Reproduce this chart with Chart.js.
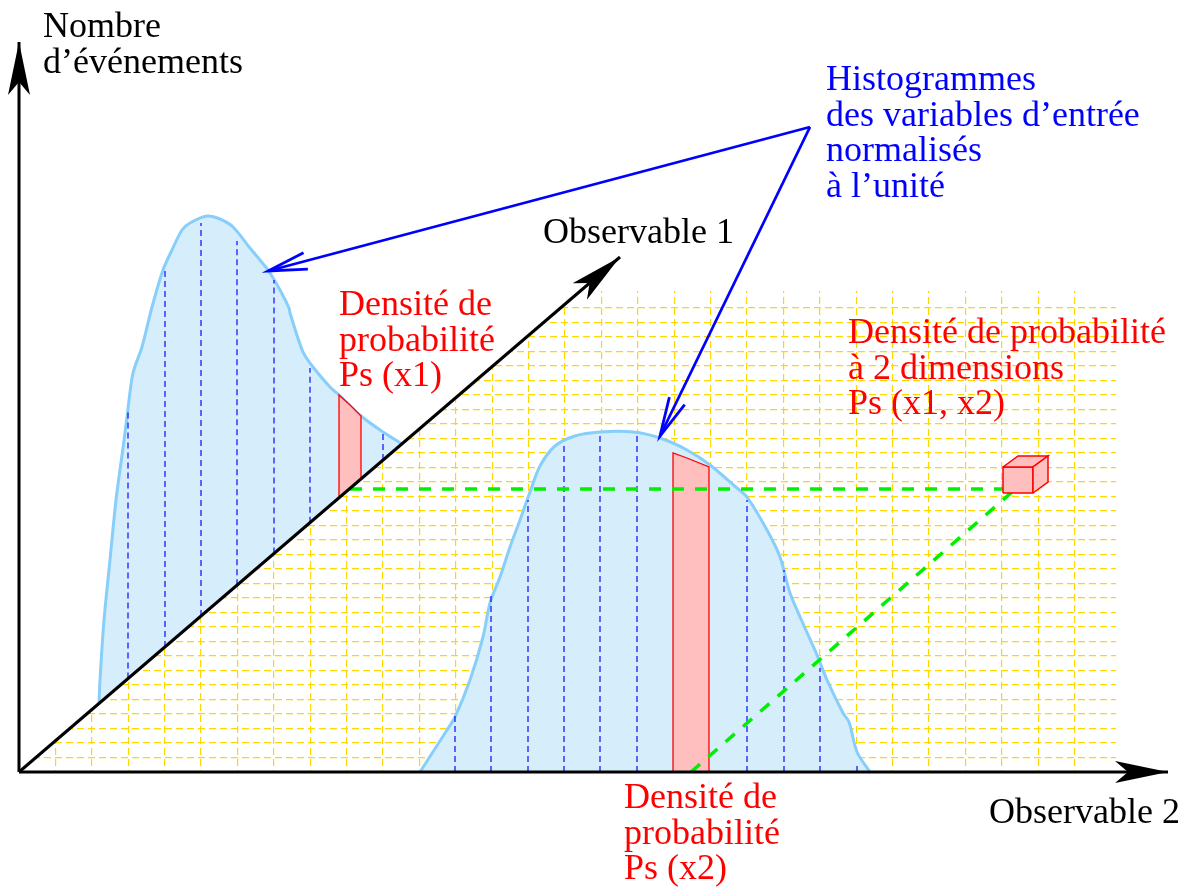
<!DOCTYPE html>
<html>
<head>
<meta charset="utf-8">
<title>Densité de probabilité à 2 dimensions</title>
<script src="https://cdn.jsdelivr.net/npm/chart.js@4/dist/chart.umd.min.js"></script>
<style>
  body { margin: 0; background: #fff; }
</style>
</head>
<body>
<canvas id="schema" width="1190" height="891"></canvas>
<script>
// repère du schéma : origine au pied des axes, une unité = un pixel du dessin

// axes (le dernier point est la pointe de la flèche)
var axeNombreX = [0, 0];
var axeNombreY = [0, 730];
var axeObs2X = [0, 1149];
var axeObs2Y = [0, 0];
var axeObs1X = [0, 601];
var axeObs1Y = [0, 515];

// histogramme de l'observable 1 (posé sur l'axe oblique)
var histo1X = [80, 81, 85, 91, 97, 104, 108, 114, 123, 133, 144, 153, 163, 171, 188, 201, 214, 231, 249, 261, 270, 271, 284, 294, 311, 320, 342, 364, 383];
var histo1Y = [68, 92, 152, 212, 272, 324, 355, 399, 425, 465, 502, 522, 542, 549, 556, 553, 545, 524, 502, 482, 464, 459, 420, 405, 385, 377, 356, 340, 328];
var histo1BinsX = [109, 146, 182, 218, 255, 291, 364];
var histo1BinsHaut = [360, 502, 549, 531, 492, 404, 340];

// histogramme de l'observable 2 (posé sur l'axe horizontal)
var histo2X = [401, 428, 436, 451, 464, 471, 481, 491, 501, 511, 521, 536, 556, 581, 614, 641, 668, 691, 718, 728, 748, 761, 771, 786, 798, 808, 824, 830, 838, 851];
var histo2Y = [0, 42, 55, 92, 135, 169, 195, 225, 252, 280, 306, 326, 336, 340, 340, 334, 322, 307, 284, 275, 242, 215, 179, 144, 117, 92, 59, 50, 20, 0];
var histo2BinsX = [436, 472, 509, 545, 581, 618, 728, 765, 801, 838];
var histo2BinsHaut = [57, 180, 272, 328, 337, 336, 272, 202, 104, 10];

// bins sélectionnés (en rouge)
var binRouge1X = [320, 331, 342];
var binRouge1Y = [377, 367, 356];
var binRouge2X = [654, 668, 690];
var binRouge2Y = [319, 314, 305];

// cellule de la densité à 2 dimensions
var cubeAvantX = [984, 984, 1014, 1014, 984];
var cubeAvantY = [279, 305, 305, 279, 279];
var cubeDessusX = [984, 999, 1029, 1014, 984];
var cubeDessusY = [305, 316, 316, 305, 305];
var cubeDroiteX = [1014, 1029, 1029, 1014, 1014];
var cubeDroiteY = [279, 290, 316, 305, 279];

// projections (tirets verts)
var projection1X = [331, 984];
var projection1Y = [283, 283];
var projection2X = [672, 993];
var projection2Y = [0, 280];

// flèches bleues depuis la légende
var fleche1X = [791, 249];
var fleche1Y = [645, 501];
var fleche2X = [791, 641];
var fleche2Y = [645, 336];

// textes
var textes = [
  { lignes: ['Nombre', 'd’événements'], x: 24, y: 735, couleur: '#000' },
  { lignes: ['Histogrammes', 'des variables d’entrée', 'normalisés', 'à l’unité'], x: 807, y: 682, couleur: '#0000ff' },
  { lignes: ['Observable 1'], x: 524, y: 529, couleur: '#000' },
  { lignes: ['Densité de', 'probabilité', 'Ps (x1)'], x: 320, y: 457, couleur: '#ff0000' },
  { lignes: ['Densité de probabilité', 'à 2 dimensions', 'Ps (x1, x2)'], x: 829, y: 429, couleur: '#ff0000' },
  { lignes: ['Densité de', 'probabilité', 'Ps (x2)'], x: 605, y: -36, couleur: '#ff0000' },
  { lignes: ['Observable 2'], x: 970, y: -51, couleur: '#000' }
];

var penteObs1 = axeObs1Y[1] / axeObs1X[1];
function surObs1(x) { return x * penteObs1; }

function points(xs, ys) {
  return xs.map(function (x, i) { return { x: x, y: ys[i] }; });
}

// traits verticaux des bins, coupés par des null
function traits(xs, hauts, base) {
  var pts = [];
  xs.forEach(function (x, i) {
    pts.push({ x: x, y: base(x) }, { x: x, y: hauts[i] }, { x: x, y: null });
  });
  return pts;
}

function binRouge(xs, ys, base) {
  var pts = [{ x: xs[0], y: base(xs[0]) }].concat(points(xs, ys));
  var fin = xs[xs.length - 1];
  pts.push({ x: fin, y: base(fin) }, { x: xs[0], y: base(xs[0]) });
  return pts;
}

var bleuClair = '#87cefa';
var fondBleu = '#d6eefc';
var rose = '#ffbfbf';

var axeObs1 = { data: points(axeObs1X, axeObs1Y), borderColor: '#000', borderWidth: 3, pointe: 'pleine' };

var datasets = [
  { data: points(histo2X, histo2Y), borderColor: bleuClair, borderWidth: 3, backgroundColor: fondBleu, fill: 'origin', tension: 0.3 },
  { data: points(histo1X, histo1Y), borderColor: bleuClair, borderWidth: 3, backgroundColor: fondBleu, tension: 0.3 },
  { data: traits(histo1BinsX, histo1BinsHaut, surObs1), borderColor: '#1a1aff', borderWidth: 1.3, borderDash: [6, 4] },
  { data: traits(histo2BinsX, histo2BinsHaut, function () { return 0; }), borderColor: '#1a1aff', borderWidth: 1.3, borderDash: [6, 4] },
  { data: binRouge(binRouge1X, binRouge1Y, surObs1), borderColor: '#ff0000', borderWidth: 1.3, backgroundColor: rose, fill: 'shape' },
  { data: binRouge(binRouge2X, binRouge2Y, function () { return 0; }), borderColor: '#ff0000', borderWidth: 1.3, backgroundColor: rose, fill: 'shape' },
  { data: points(projection1X, projection1Y), borderColor: '#00f000', borderWidth: 3.5, borderDash: [12, 11] },
  { data: points(projection2X, projection2Y), borderColor: '#00f000', borderWidth: 3.5, borderDash: [12, 11] },
  { data: points(axeNombreX, axeNombreY), borderColor: '#000', borderWidth: 3, pointe: 'pleine' },
  { data: points(axeObs2X, axeObs2Y), borderColor: '#000', borderWidth: 3, pointe: 'pleine' },
  axeObs1,
  { data: points(fleche1X, fleche1Y), borderColor: '#0000ff', borderWidth: 2.8, pointe: 'ouverte' },
  { data: points(fleche2X, fleche2Y), borderColor: '#0000ff', borderWidth: 2.8, pointe: 'ouverte' },
  { data: points(cubeAvantX, cubeAvantY), borderColor: '#ff0000', borderWidth: 1.5, backgroundColor: rose, fill: 'shape' },
  { data: points(cubeDessusX, cubeDessusY), borderColor: '#ff0000', borderWidth: 1.5, backgroundColor: rose, fill: 'shape' },
  { data: points(cubeDroiteX, cubeDroiteY), borderColor: '#ff0000', borderWidth: 1.5, backgroundColor: rose, fill: 'shape' }
];

// l'histogramme 1 est rempli jusqu'à l'axe oblique
datasets[1].fill = datasets.indexOf(axeObs1);

datasets.forEach(function (ds, i) {
  ds.showLine = true;
  ds.pointRadius = 0;
  ds.order = datasets.length - i;
  if (ds.fill === undefined) ds.fill = false;
});

// la grille jaune n'existe que dans le plan (Observable 1, Observable 2)
var clipGrille = {
  id: 'clipGrille',
  beforeDraw: function (chart) {
    var ctx = chart.ctx, sx = chart.scales.x, sy = chart.scales.y;
    ctx.save();
    ctx.beginPath();
    ctx.moveTo(sx.getPixelForValue(0), sy.getPixelForValue(0));
    ctx.lineTo(sx.getPixelForValue(481 / penteObs1), sy.getPixelForValue(481));
    ctx.lineTo(sx.getPixelForValue(1097), sy.getPixelForValue(481));
    ctx.lineTo(sx.getPixelForValue(1097), sy.getPixelForValue(0));
    ctx.closePath();
    ctx.clip();
  },
  beforeDatasetsDraw: function (chart) {
    chart.ctx.restore();
  }
};

var pointes = {
  id: 'pointes',
  afterDatasetsDraw: function (chart) {
    var ctx = chart.ctx;
    chart.data.datasets.forEach(function (ds, i) {
      if (!ds.pointe) return;
      var pts = chart.getDatasetMeta(i).data;
      var a = pts[pts.length - 2], b = pts[pts.length - 1];
      ctx.save();
      ctx.translate(b.x, b.y);
      ctx.rotate(Math.atan2(b.y - a.y, b.x - a.x));
      ctx.beginPath();
      if (ds.pointe === 'pleine') {
        ctx.moveTo(0, 0);
        ctx.lineTo(-53, -11);
        ctx.lineTo(-40, 0);
        ctx.lineTo(-53, 11);
        ctx.closePath();
        ctx.fillStyle = ds.borderColor;
        ctx.fill();
      } else {
        ctx.moveTo(-39, -8.5);
        ctx.lineTo(0, 0);
        ctx.lineTo(-39, 8.5);
        ctx.lineJoin = 'miter';
        ctx.strokeStyle = ds.borderColor;
        ctx.lineWidth = ds.borderWidth;
        ctx.stroke();
      }
      ctx.restore();
    });
  }
};

var ecritures = {
  id: 'ecritures',
  afterDraw: function (chart) {
    var ctx = chart.ctx, sx = chart.scales.x, sy = chart.scales.y;
    ctx.save();
    ctx.font = '36px "Liberation Serif", "DejaVu Serif", serif';
    ctx.textBaseline = 'alphabetic';
    ctx.textAlign = 'left';
    textes.forEach(function (t) {
      ctx.fillStyle = t.couleur;
      t.lignes.forEach(function (l, k) {
        ctx.fillText(l, sx.getPixelForValue(t.x), sy.getPixelForValue(t.y) + k * 35.7);
      });
    });
    ctx.restore();
  }
};

function couleurGrille(limite) {
  return function (c) {
    var v = c.tick ? c.tick.value : -1;
    return v > 0.5 && v <= limite ? '#ffd700' : 'rgba(0,0,0,0)';
  };
}

var ctx = document.getElementById('schema').getContext('2d');

var chart = new Chart(ctx, {
  type: 'scatter',
  data: { datasets: datasets },
  options: {
    responsive: false,
    animation: false,
    events: [],
    layout: { padding: 0, autoPadding: false },
    plugins: { legend: { display: false }, tooltip: { enabled: false } },
    scales: {
      x: {
        type: 'linear', position: 'bottom', min: -19, max: 1171,
        afterFit: function (s) { s.height = 0; },
        ticks: { display: false, stepSize: 36.4, autoSkip: false },
        border: { display: false, dash: [7, 4] },
        grid: { drawTicks: false, lineWidth: 1.2, color: couleurGrille(1060) }
      },
      y: {
        type: 'linear', position: 'left', min: -119, max: 772,
        afterFit: function (s) { s.width = 0; },
        ticks: { display: false, stepSize: 14.5, autoSkip: false },
        border: { display: false, dash: [7, 4] },
        grid: { drawTicks: false, lineWidth: 1.2, color: couleurGrille(465) }
      }
    }
  },
  plugins: [clipGrille, pointes, ecritures]
});
</script>
</body>
</html>
